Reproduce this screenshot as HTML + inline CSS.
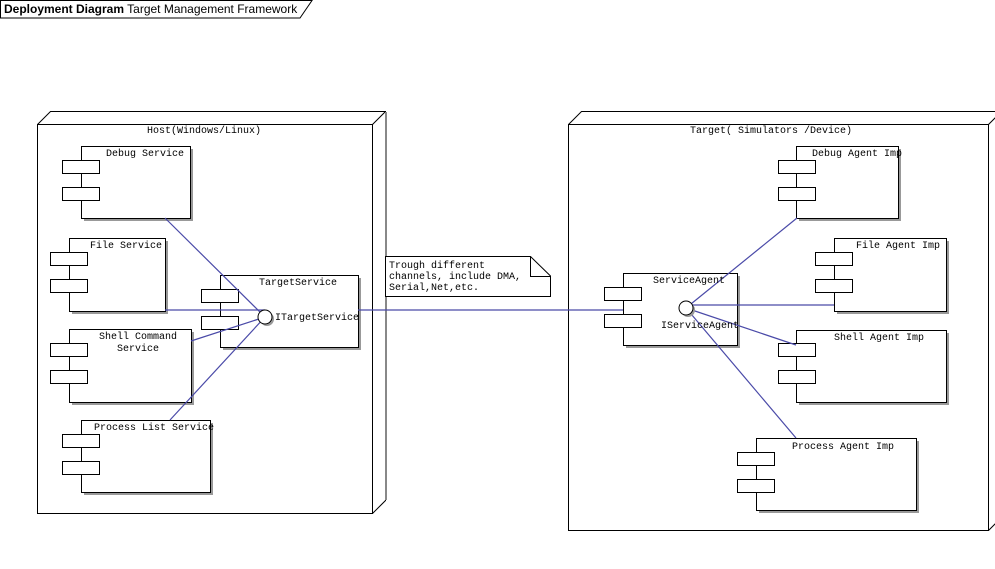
<!DOCTYPE html>
<html><head><meta charset="utf-8"><style>
body{margin:0;background:#fff;width:995px;height:564px;overflow:hidden}
text{font-family:"Liberation Mono","DejaVu Sans Mono",monospace;font-size:10px;fill:#000}
</style></head><body>
<svg width="995" height="564" xmlns="http://www.w3.org/2000/svg">
<defs>
<g id="stubs"><rect x="0" y="0" width="37" height="13" fill="#fff" stroke="#000"/><rect x="0" y="27" width="37" height="13" fill="#fff" stroke="#000"/></g>
</defs>
<!-- title -->
<path d="M0.5,0.5 H312 L300,18 H0.5 Z" fill="#fff" stroke="#000"/>
<text x="4" y="13" style="font-family:'Liberation Sans',sans-serif;font-size:12px"><tspan font-weight="bold">Deployment Diagram</tspan> Target Management Framework</text>

<!-- Host node -->
<path d="M37.5,124.5 L50.5,111.5 H385.5 V500.5 L372.5,513.5 M372.5,124.5 L385.5,111.5" fill="none" stroke="#000"/>
<rect x="37.5" y="124.5" width="335" height="389" fill="#fff" stroke="#000"/>
<line x1="386" y1="112" x2="386" y2="500" stroke="#888" stroke-width="2"/>
<text x="204" y="133" text-anchor="middle">Host(Windows/Linux)</text>

<!-- Target node -->
<path d="M568.5,124.5 L581.5,111.5 H1001.5 V517.5 L988.5,530.5 M988.5,124.5 L1001.5,111.5" fill="none" stroke="#000"/>
<rect x="568.5" y="124.5" width="420" height="406" fill="#fff" stroke="#000"/>
<text x="771" y="133" text-anchor="middle">Target( Simulators /Device)</text>

<!-- components -->
<g fill="#fff" stroke="#000">
<rect x="84" y="149" width="109" height="72" fill="#999" stroke="none"/>
<rect x="81.5" y="146.5" width="109" height="72"/>
<rect x="72" y="241" width="96" height="73" fill="#999" stroke="none"/>
<rect x="69.5" y="238.5" width="96" height="73"/>
<rect x="72" y="332" width="122" height="73" fill="#999" stroke="none"/>
<rect x="69.5" y="329.5" width="122" height="73"/>
<rect x="84" y="423" width="129" height="72" fill="#999" stroke="none"/>
<rect x="81.5" y="420.5" width="129" height="72"/>
<rect x="223" y="278" width="138" height="72" fill="#999" stroke="none"/>
<rect x="220.5" y="275.5" width="138" height="72"/>
<rect x="626" y="276" width="114" height="72" fill="#999" stroke="none"/>
<rect x="623.5" y="273.5" width="114" height="72"/>
<rect x="799" y="149" width="102" height="72" fill="#999" stroke="none"/>
<rect x="796.5" y="146.5" width="102" height="72"/>
<rect x="837" y="241" width="112" height="73" fill="#999" stroke="none"/>
<rect x="834.5" y="238.5" width="112" height="73"/>
<rect x="799" y="333" width="150" height="72" fill="#999" stroke="none"/>
<rect x="796.5" y="330.5" width="150" height="72"/>
<rect x="759" y="441" width="160" height="72" fill="#999" stroke="none"/>
<rect x="756.5" y="438.5" width="160" height="72"/>
</g>
<use href="#stubs" x="62.5" y="160.5"/>
<use href="#stubs" x="50.5" y="252.5"/>
<use href="#stubs" x="50.5" y="343.5"/>
<use href="#stubs" x="62.5" y="434.5"/>
<use href="#stubs" x="201.5" y="289.5"/>
<use href="#stubs" x="604.5" y="287.5"/>
<use href="#stubs" x="778.5" y="160.5"/>
<use href="#stubs" x="815.5" y="252.5"/>
<use href="#stubs" x="778.5" y="343.5"/>
<use href="#stubs" x="737.5" y="452.5"/>

<!-- connectors (drawn over components) -->
<g stroke="#4a4aa8" stroke-width="1.2" fill="none">
<line x1="165" y1="218" x2="265" y2="317"/>
<line x1="165" y1="310" x2="265" y2="310"/>
<line x1="191" y1="341" x2="265" y2="317"/>
<line x1="170" y1="420" x2="265" y2="317"/>
<line x1="358" y1="310" x2="623" y2="310"/>
<line x1="686" y1="308" x2="797" y2="218"/>
<line x1="686" y1="305" x2="834" y2="305"/>
<line x1="686" y1="308" x2="796" y2="345"/>
<line x1="686" y1="308" x2="796" y2="438"/>
</g>

<!-- interface circles -->
<circle cx="267" cy="319" r="7" fill="#999"/>
<circle cx="265" cy="317" r="7" fill="#fff" stroke="#000"/>
<circle cx="688" cy="310" r="7" fill="#999"/>
<circle cx="686" cy="308" r="7" fill="#fff" stroke="#000"/>

<text x="145" y="156" text-anchor="middle">Debug Service</text>
<text x="126" y="248" text-anchor="middle">File Service</text>
<text x="138" y="339" text-anchor="middle">Shell Command</text>
<text x="138" y="351" text-anchor="middle">Service</text>
<text x="154" y="430" text-anchor="middle">Process List Service</text>
<text x="298" y="285" text-anchor="middle">TargetService</text>
<text x="275" y="320">ITargetService</text>
<text x="689" y="283" text-anchor="middle">ServiceAgent</text>
<text x="661" y="328">IServiceAgent</text>
<text x="857" y="156" text-anchor="middle">Debug Agent Imp</text>
<text x="898" y="248" text-anchor="middle">File Agent Imp</text>
<text x="879" y="340" text-anchor="middle">Shell Agent Imp</text>
<text x="843" y="449" text-anchor="middle">Process Agent Imp</text>

<!-- note -->
<path d="M385.5,256.5 H530.5 L550.5,276 V296.5 H385.5 Z" fill="#fff" stroke="#000"/>
<path d="M530.5,256.5 V276.5 H550.5" fill="none" stroke="#000"/>
<text x="389" y="268">Trough different</text>
<text x="389" y="279">channels, include DMA,</text>
<text x="389" y="290">Serial,Net,etc.</text>
</svg>
</body></html>
